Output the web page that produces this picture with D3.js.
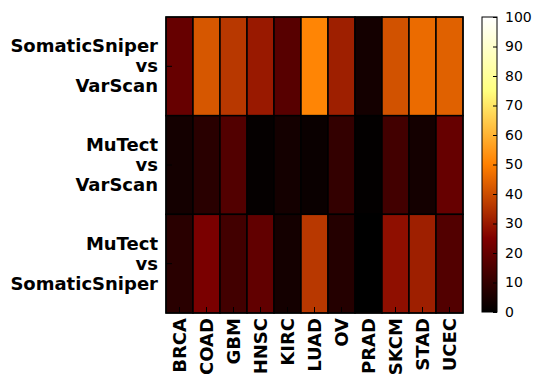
<!DOCTYPE html>
<html>
<head>
<meta charset="utf-8">
<script src="https://cdn.jsdelivr.net/npm/d3@7"></script>
<style>
  body { margin: 0; background: #fff; }
  text { font-family: "DejaVu Sans", sans-serif; }
</style>
</head>
<body>
<div id="main"></div>
<script>
const cancers = ["BRCA", "COAD", "GBM", "HNSC", "KIRC", "LUAD", "OV", "PRAD", "SKCM", "STAD", "UCEC"];
const comparisons = [
  ["SomaticSniper", "vs", "VarScan"],
  ["MuTect", "vs", "VarScan"],
  ["MuTect", "vs", "SomaticSniper"]
];
const sniperVsVarscan = [20, 42, 36, 30, 17, 51, 31, 4, 41, 46, 44];
const mutectVsVarscan = [4, 8, 16, 1, 4, 2, 10, 0.5, 13, 4, 20];
const mutectVsSniper = [8, 24, 13, 19, 4, 36, 7, 0, 28, 31, 16];
const colorTicks = [0, 10, 20, 30, 40, 50, 60, 70, 80, 90, 100];

const rows = [sniperVsVarscan, mutectVsVarscan, mutectVsSniper];
const cells = [];
rows.forEach((vals, r) => vals.forEach((v, c) => cells.push({row: r, cancer: cancers[c], value: v})));

// matplotlib afmhot
function afmhot(t) {
  const cl = v => Math.max(0, Math.min(1, v));
  const r = cl(2 * t), g = cl(2 * t - 0.5), b = cl(2 * t - 1);
  return d3.rgb(r * 255, g * 255, b * 255).toString();
}

const W = 534, H = 379;
const m = {left: 166, top: 17, right: 463, bottom: 313};

const svg = d3.select("#main").append("svg").attr("width", W).attr("height", H);

const x = d3.scaleBand().domain(cancers).range([m.left, m.right]);
const y = d3.scaleBand().domain(d3.range(3)).range([m.top, m.bottom]);
const color = d3.scaleSequential(afmhot).domain([0, 100]);

svg.append("g").selectAll("rect")
  .data(cells)
  .enter()
  .append("rect")
    .attr("x", d => x(d.cancer))
    .attr("y", d => y(d.row))
    .attr("width", x.bandwidth())
    .attr("height", y.bandwidth())
    .attr("fill", d => color(d.value))
    .attr("stroke", "black")
    .attr("stroke-width", 1.5);

// frame
svg.append("rect")
  .attr("x", m.left).attr("y", m.top)
  .attr("width", m.right - m.left).attr("height", m.bottom - m.top)
  .attr("fill", "none").attr("stroke", "black").attr("stroke-width", 1.2);

// inward ticks
svg.append("g").selectAll("line")
  .data(cancers).enter().append("line")
    .attr("x1", d => x(d) + x.bandwidth() / 2).attr("x2", d => x(d) + x.bandwidth() / 2)
    .attr("y1", m.bottom).attr("y2", m.bottom - 6)
    .attr("stroke", "black");
svg.append("g").selectAll("line")
  .data(d3.range(3)).enter().append("line")
    .attr("x1", m.left).attr("x2", m.left + 6)
    .attr("y1", d => y(d) + y.bandwidth() / 2).attr("y2", d => y(d) + y.bandwidth() / 2)
    .attr("stroke", "black");

// x labels, rotated
svg.append("g").selectAll("text")
  .data(cancers).enter().append("text")
    .attr("transform", d => `translate(${x(d) + x.bandwidth() / 2 + 6.5},${m.bottom + 5}) rotate(-90)`)
    .attr("text-anchor", "end")
    .style("font-size", "18px")
    .style("font-weight", "bold")
    .text(d => d);

// y labels, three lines each
const ylab = svg.append("g").selectAll("text")
  .data(comparisons).enter().append("text")
    .attr("text-anchor", "end")
    .style("font-size", "18px")
    .style("font-weight", "bold");
ylab.each(function(lines, i) {
  const cy = y(i) + y.bandwidth() / 2;
  d3.select(this).selectAll("tspan")
    .data(lines).enter().append("tspan")
      .attr("x", 158)
      .attr("y", (d, k) => cy + 6 + (k - 1) * 20)
      .text(d => d);
});

// colorbar
const cb = {x: 482, w: 15, top: 17, bottom: 312};
const cScale = d3.scaleLinear().domain([0, 100]).range([cb.bottom, cb.top]);
const grad = svg.append("defs").append("linearGradient")
  .attr("id", "cbgrad").attr("x1", 0).attr("y1", 1).attr("x2", 0).attr("y2", 0);
grad.selectAll("stop")
  .data(d3.range(0, 101, 5)).enter().append("stop")
    .attr("offset", d => d + "%")
    .attr("stop-color", d => color(d));
svg.append("rect")
  .attr("x", cb.x).attr("y", cb.top)
  .attr("width", cb.w).attr("height", cb.bottom - cb.top)
  .attr("fill", "url(#cbgrad)")
  .attr("stroke", "black").attr("stroke-width", 1);

const cbAxis = d3.axisRight(cScale).tickValues(colorTicks).tickSize(-4).tickPadding(8);
svg.append("g")
  .attr("transform", `translate(${cb.x + cb.w},0)`)
  .call(cbAxis)
  .call(g => g.select(".domain").remove())
  .call(g => g.selectAll("text").style("font-size", "14px").attr("fill", "black").style("font-family", "DejaVu Sans, sans-serif"));
</script>
</body>
</html>
